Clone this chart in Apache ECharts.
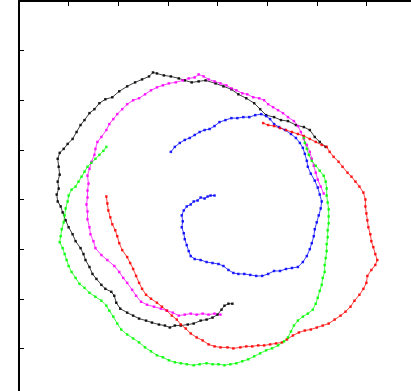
<!DOCTYPE html>
<html>
<head>
<meta charset="utf-8">
<script src="https://cdn.jsdelivr.net/npm/echarts@6/dist/echarts.min.js"></script>
<style>
  html, body { margin: 0; padding: 0; background: #fff; }
  #chart { width: 411px; height: 391px; }
</style>
</head>
<body>
<div id="chart"></div>
<script>
// Trajectories: [x, y] positions, y measured downward from the top edge
const blackPath = [[309,147],[303,142],[298,137],[293,130],[287,127],[279,125],[271,121],[264,120],[257,117],[249,115],[243,109],[237,103],[229,98],[221,94],[214,89],[206,86],[198,83],[188,80],[181,81],[174,82],[167,80],[161,78],[153,76],[146,75],[139,73],[135,72],[131,76],[124,79],[117,82],[109,86],[101,91],[94,97],[87,99],[81,103],[76,109],[71,113],[66,120],[62,125],[58,132],[54,139],[49,144],[45,149],[41,153],[39,159],[40,167],[41,175],[39,182],[40,189],[38,195],[39,202],[42,207],[44,213],[47,221],[50,228],[54,235],[57,242],[62,249],[65,255],[67,261],[71,268],[74,275],[78,280],[83,286],[87,290],[93,293],[96,297],[98,304],[102,310],[109,314],[115,317],[121,320],[128,322],[134,324],[141,326],[147,327],[152,329],[157,327],[163,327],[170,326],[176,325],[183,322],[189,321],[195,319],[200,316],[204,311],[207,307],[211,305],[215,305]];

const magentaPath = [[307,194],[304,187],[301,180],[299,173],[297,166],[295,159],[293,152],[290,145],[287,139],[284,132],[281,126],[277,121],[271,117],[266,113],[261,110],[256,107],[251,104],[247,100],[242,98],[236,97],[230,94],[225,93],[219,90],[214,88],[209,85],[203,83],[197,81],[191,79],[186,76],[181,74],[177,77],[171,78],[165,80],[158,82],[151,83],[145,85],[139,87],[133,90],[127,94],[121,98],[115,100],[109,104],[104,109],[99,114],[95,119],[91,124],[88,130],[83,137],[79,142],[77,149],[76,155],[73,162],[71,169],[69,176],[70,184],[69,191],[69,198],[68,205],[69,212],[69,220],[71,228],[72,235],[75,242],[77,249],[83,256],[89,261],[96,267],[101,273],[105,279],[109,284],[114,291],[118,297],[123,303],[129,306],[136,308],[143,310],[149,312],[155,314],[161,317],[167,316],[173,315],[179,316],[185,315],[191,316],[197,315],[203,316]];

const bluePath = [[153,152],[157,147],[162,143],[167,140],[172,138],[177,135],[182,132],[187,130],[192,129],[197,126],[202,122],[208,120],[214,118],[220,118],[226,117],[232,117],[238,115],[244,114],[249,116],[253,119],[257,124],[262,127],[268,130],[274,134],[279,138],[283,143],[286,148],[288,154],[290,161],[291,167],[294,174],[298,181],[301,188],[303,195],[305,202],[304,209],[302,216],[300,223],[298,230],[297,237],[295,244],[293,250],[290,257],[286,263],[281,268],[275,269],[269,270],[263,272],[257,272],[251,275],[245,277],[239,277],[233,276],[227,275],[221,275],[216,274],[211,271],[206,267],[201,265],[195,264],[189,263],[183,261],[177,260],[173,257],[171,252],[169,246],[167,240],[166,234],[164,228],[165,222],[164,216],[166,211],[169,207],[173,205],[176,202],[180,201],[183,198],[187,199],[190,197],[193,196],[197,196]];

const redPath = [[88,197],[89,204],[90,211],[92,218],[94,225],[97,231],[99,237],[101,244],[104,251],[109,258],[112,264],[115,270],[118,277],[121,284],[124,290],[128,296],[133,300],[139,304],[144,308],[149,312],[154,317],[159,321],[163,326],[168,330],[173,335],[179,339],[185,342],[191,346],[197,348],[203,349],[210,349],[216,350],[223,349],[229,348],[235,348],[241,347],[247,347],[253,346],[259,345],[265,344],[270,341],[276,337],[282,334],[288,332],[294,331],[300,329],[306,327],[312,325],[318,321],[324,317],[329,313],[334,308],[338,302],[343,296],[347,290],[350,284],[351,277],[355,271],[359,266],[361,261],[359,255],[357,248],[355,242],[354,235],[352,228],[351,221],[350,214],[349,207],[349,200],[347,193],[343,187],[339,182],[335,177],[331,173],[326,167],[322,162],[317,157],[313,152],[310,147],[305,145],[299,142],[293,139],[287,136],[281,134],[275,132],[269,130],[263,128],[257,126],[251,125],[246,123]];

const greenPath = [[88,147],[85,151],[81,155],[77,159],[73,163],[69,167],[66,172],[63,177],[60,182],[57,187],[53,190],[50,196],[49,202],[47,209],[46,216],[45,223],[43,230],[42,237],[41,243],[44,249],[46,255],[48,261],[50,267],[53,273],[57,279],[61,285],[66,289],[71,294],[77,298],[83,302],[88,307],[91,312],[95,318],[99,325],[103,331],[109,336],[115,340],[121,344],[127,349],[133,353],[139,357],[145,359],[151,362],[157,364],[163,365],[169,366],[176,367],[182,366],[189,365],[195,366],[201,366],[207,367],[213,366],[219,365],[225,363],[231,361],[237,358],[243,355],[249,352],[255,350],[261,347],[267,343],[271,339],[274,333],[277,327],[281,322],[286,318],[291,315],[296,311],[299,305],[301,299],[303,292],[305,286],[306,279],[308,273],[308,266],[309,259],[310,252],[310,245],[311,238],[311,231],[312,224],[312,217],[312,210],[311,203],[310,196],[310,189],[309,182],[307,176],[303,171],[299,166],[295,161],[292,155],[290,149],[288,143],[287,138]];

const axisMax = 400;
const tickStep = 50;

const chart = echarts.init(document.getElementById('chart'), null, { renderer: 'canvas' });

function frameAxis(position, inverse) {
  return {
    type: 'value',
    position: position,
    min: 0,
    max: axisMax,
    interval: tickStep,
    inverse: !!inverse,
    axisLine: { show: true, onZero: false, lineStyle: { color: '#000', width: 2 } },
    axisTick: { show: true, inside: true, length: 5, lineStyle: { color: '#000', width: 1 } },
    axisLabel: { show: false },
    splitLine: { show: false }
  };
}

function track(name, color, data) {
  return {
    name: name,
    type: 'line',
    xAxisIndex: 0,
    yAxisIndex: 0,
    data: data,
    symbol: 'rect',
    symbolSize: 2.5,
    showSymbol: true,
    showAllSymbol: true,
    itemStyle: { color: color, opacity: 0.85 },
    lineStyle: { color: color, width: 1, opacity: 0.75 },
    animation: false,
    silent: true
  };
}

chart.setOption({
  animation: false,
  backgroundColor: '#fff',
  grid: { left: 19, top: 1, width: 397, height: 397, containLabel: false, outerBoundsMode: 'none' },
  xAxis: [frameAxis('bottom'), frameAxis('top')],
  yAxis: [frameAxis('left', true), frameAxis('right', true)],
  series: [
    track('black', '#000000', blackPath),
    track('magenta', '#ff00ff', magentaPath),
    track('blue', '#0000ff', bluePath),
    track('red', '#ff0000', redPath),
    track('green', '#00ff00', greenPath)
  ]
});
</script>
</body>
</html>
